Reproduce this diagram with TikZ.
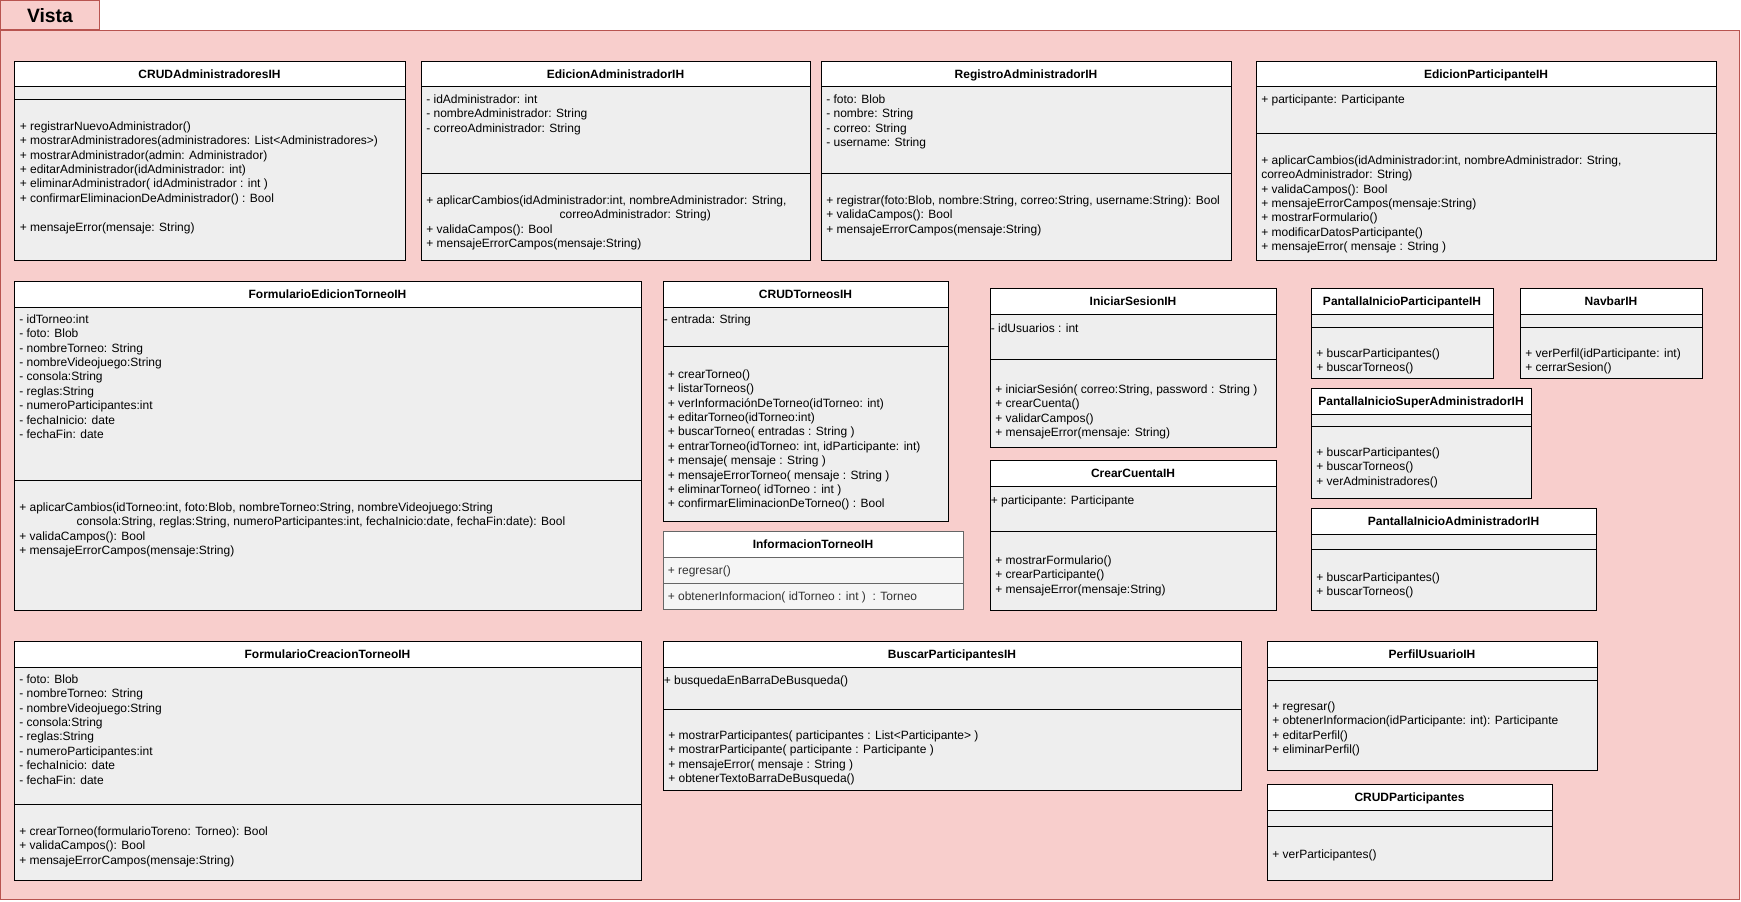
\documentclass[tikz,border=0pt]{standalone}
\usepackage{fontspec}
\setmainfont{Liberation Sans}
\definecolor{pkgfill}{HTML}{F8CECC}
\definecolor{pkgline}{HTML}{B85450}
\definecolor{bodyfill}{HTML}{EEEEEE}
\definecolor{infofill}{HTML}{F5F5F5}
\definecolor{infoline}{HTML}{666666}
\definecolor{infotext}{HTML}{333333}
\tikzset{
  boxbody/.style={fill=bodyfill, inner sep=0pt, outer sep=0pt, anchor=north west},
  boxline/.style={draw=black, line width=0.75pt},
  ttl/.style={font=\fontsize{9}{10.8}\selectfont\bfseries, inner sep=0pt, anchor=base},
  txt/.style={font=\fontsize{9}{10.8}\selectfont, inner sep=0pt, align=left, anchor=north west},
}
\newcommand\umlbox[8]{%
  \pgfmathsetmacro\umlbw{(#4-#2)*0.75}%
  \pgfmathsetmacro\umlbh{(#5-#3)*0.75}%
  \node[boxbody, minimum width=\umlbw pt, minimum height=\umlbh pt] (#1) at (#2,#3) {};
  \fill[white] (#2,#3) rectangle (#4,#6);
  \draw[boxline] (#2,#6) -- (#4,#6);
  \draw[boxline] (#2,#7) -- (#4,#7);
  \draw[boxline] (#1.north west) rectangle (#1.south east);
  \node[ttl] (#1-t) at ({(#2+#4)/2},{(#3+#6)/2+4.5}) {#8};
}
\newcommand\umltext[4]{\node[txt] (#1) at (#2,{#3-12}) {\rule{0pt}{9pt}#4};}
\begin{document}
\begin{tikzpicture}[x=0.75pt,y=-0.75pt]
\useasboundingbox (0,0) rectangle (1741,901);
% package
\node[fill=pkgfill, draw=pkgline, line width=0.75pt, inner sep=0pt, outer sep=0pt,
      anchor=north west, minimum width=1304.6pt, minimum height=652pt] (pkg) at (0.5,30) {};
\node[fill=pkgfill, draw=pkgline, line width=0.75pt, inner sep=0pt, outer sep=0pt,
      anchor=north west, minimum width=74.6pt, minimum height=22pt] (tab) at (0.5,0.5) {};
\node[font=\fontsize{14.5}{17}\selectfont\bfseries, inner sep=0pt, anchor=base] (tabt) at (50,22) {Vista};

% Row 1
\umlbox{A}{14}{61}{405}{260}{86}{99}{CRUDAdministradoresIH}
\umltext{A-m}{19.5}{130}{+ registrarNuevoAdministrador()\\
+ mostrarAdministradores(administradores: List<Administradores>)\\
+ mostrarAdministrador(admin: Administrador)\\
+ editarAdministrador(idAdministrador: int)\\
+ eliminarAdministrador( idAdministrador : int )\\
+ confirmarEliminacionDeAdministrador() : Bool\\[10.8pt]
+ mensajeError(mensaje: String)}

\umlbox{B}{421}{61}{810}{260}{86}{173}{EdicionAdministradorIH}
\umltext{B-a}{426}{103}{- idAdministrador: int\\- nombreAdministrador: String\\- correoAdministrador: String}
\umltext{B-m}{426}{204}{+ aplicarCambios(idAdministrador:int, nombreAdministrador: String,\\
\hspace*{100pt}correoAdministrador: String)\\
+ validaCampos(): Bool\\
+ mensajeErrorCampos(mensaje:String)}

\umlbox{C}{821}{61}{1231}{260}{86}{173}{RegistroAdministradorIH}
\umltext{C-a}{826}{103}{- foto: Blob\\- nombre: String\\- correo: String\\- username: String}
\umltext{C-m}{826}{204}{+ registrar(foto:Blob, nombre:String, correo:String, username:String): Bool\\
+ validaCampos(): Bool\\
+ mensajeErrorCampos(mensaje:String)}

\umlbox{D}{1256}{61}{1716}{260}{86}{133}{EdicionParticipanteIH}
\umltext{D-a}{1261}{103}{+ participante: Participante}
\umltext{D-m}{1261}{164}{+ aplicarCambios(idAdministrador:int, nombreAdministrador: String,\\
correoAdministrador: String)\\
+ validaCampos(): Bool\\
+ mensajeErrorCampos(mensaje:String)\\
+ mostrarFormulario()\\
+ modificarDatosParticipante()\\
+ mensajeError( mensaje : String )}

% Row 2
\umlbox{E}{14}{281}{641}{610}{307}{480}{FormularioEdicionTorneoIH}
\umltext{E-a}{19}{323}{- idTorneo:int\\- foto: Blob\\- nombreTorneo: String\\- nombreVideojuego:String\\- consola:String\\- reglas:String\\- numeroParticipantes:int\\- fechaInicio: date\\- fechaFin: date}
\umltext{E-m}{19}{511}{+ aplicarCambios(idTorneo:int, foto:Blob, nombreTorneo:String, nombreVideojuego:String\\
\hspace*{43pt}consola:String, reglas:String, numeroParticipantes:int, fechaInicio:date, fechaFin:date): Bool\\
+ validaCampos(): Bool\\
+ mensajeErrorCampos(mensaje:String)}

\umlbox{F}{663}{281}{948}{521}{307}{346}{CRUDTorneosIH}
\umltext{F-a}{663.5}{323}{- entrada: String}
\umltext{F-m}{667.5}{378}{+ crearTorneo()\\
+ listarTorneos()\\
+ verInformaciónDeTorneo(idTorneo: int)\\
+ editarTorneo(idTorneo:int)\\
+ buscarTorneo( entradas : String )\\
+ entrarTorneo(idTorneo: int, idParticipante: int)\\
+ mensaje( mensaje : String )\\
+ mensajeErrorTorneo( mensaje : String )\\
+ eliminarTorneo( idTorneo : int )\\
+ confirmarEliminacionDeTorneo() : Bool}

% InformacionTorneoIH (grey style)
\node[fill=infofill, inner sep=0pt, outer sep=0pt, anchor=north west, minimum width=225pt, minimum height=58.5pt] (G) at (663,531) {};
\fill[white] (663,531) rectangle (963,557);
\draw[draw=infoline, line width=0.75pt] (663,557) -- (963,557);
\draw[draw=infoline, line width=0.75pt] (663,583) -- (963,583);
\draw[draw=infoline, line width=0.75pt] (G.north west) rectangle (G.south east);
\node[ttl] (G-t) at (813,548.5) {InformacionTorneoIH};
\umltext{G-a}{667.5}{574}{\color{infotext}+ regresar()}
\umltext{G-m}{667.5}{600}{\color{infotext}+ obtenerInformacion( idTorneo : int )\ \ : Torneo}

\umlbox{H}{990}{288}{1276}{447}{314}{359}{IniciarSesionIH}
\umltext{H-a}{990.5}{332}{- idUsuarios : int}
\umltext{H-m}{995}{393}{+ iniciarSesión( correo:String, password : String )\\
+ crearCuenta()\\
+ validarCampos()\\
+ mensajeError(mensaje: String)}

\umlbox{I}{990}{460}{1276}{610}{486}{531}{CrearCuentaIH}
\umltext{I-a}{990.5}{504}{+ participante: Participante}
\umltext{I-m}{995}{564}{+ mostrarFormulario()\\
+ crearParticipante()\\
+ mensajeError(mensaje:String)}

\umlbox{J}{1311}{288}{1493}{378}{314}{327}{PantallaInicioParticipanteIH}
\umltext{J-m}{1316}{357}{+ buscarParticipantes()\\+ buscarTorneos()}

\umlbox{K}{1520}{288}{1702}{378}{314}{327}{NavbarIH}
\umltext{K-m}{1525}{357}{+ verPerfil(idParticipante: int)\\+ cerrarSesion()}

\umlbox{L}{1311}{388}{1531}{498}{414}{426}{PantallaInicioSuperAdministradorIH}
\umltext{L-m}{1316}{456}{+ buscarParticipantes()\\+ buscarTorneos()\\+ verAdministradores()}

\umlbox{M}{1311}{508}{1596}{610}{534}{549}{PantallaInicioAdministradorIH}
\umltext{M-m}{1316}{581}{+ buscarParticipantes()\\+ buscarTorneos()}

% Row 3
\umlbox{N}{14}{641}{641}{880}{667}{804}{FormularioCreacionTorneoIH}
\umltext{N-a}{19}{683}{- foto: Blob\\- nombreTorneo: String\\- nombreVideojuego:String\\- consola:String\\- reglas:String\\- numeroParticipantes:int\\- fechaInicio: date\\- fechaFin: date}
\umltext{N-m}{19}{835}{+ crearTorneo(formularioToreno: Torneo): Bool\\
+ validaCampos(): Bool\\
+ mensajeErrorCampos(mensaje:String)}

\umlbox{O}{663}{641}{1241}{790}{667}{709}{BuscarParticipantesIH}
\umltext{O-a}{663.5}{684}{+ busquedaEnBarraDeBusqueda()}
\umltext{O-m}{668}{739}{+ mostrarParticipantes( participantes : List<Participante> )\\
+ mostrarParticipante( participante : Participante )\\
+ mensajeError( mensaje : String )\\
+ obtenerTextoBarraDeBusqueda()}

\umlbox{P}{1267}{641}{1597}{770}{667}{680}{PerfilUsuarioIH}
\umltext{P-m}{1272}{710}{+ regresar()\\
+ obtenerInformacion(idParticipante: int): Participante\\
+ editarPerfil()\\
+ eliminarPerfil()}

\umlbox{Q}{1267}{784}{1552}{880}{810}{826}{CRUDParticipantes}
\umltext{Q-m}{1272}{858}{+ verParticipantes()}
\end{tikzpicture}
\end{document}
